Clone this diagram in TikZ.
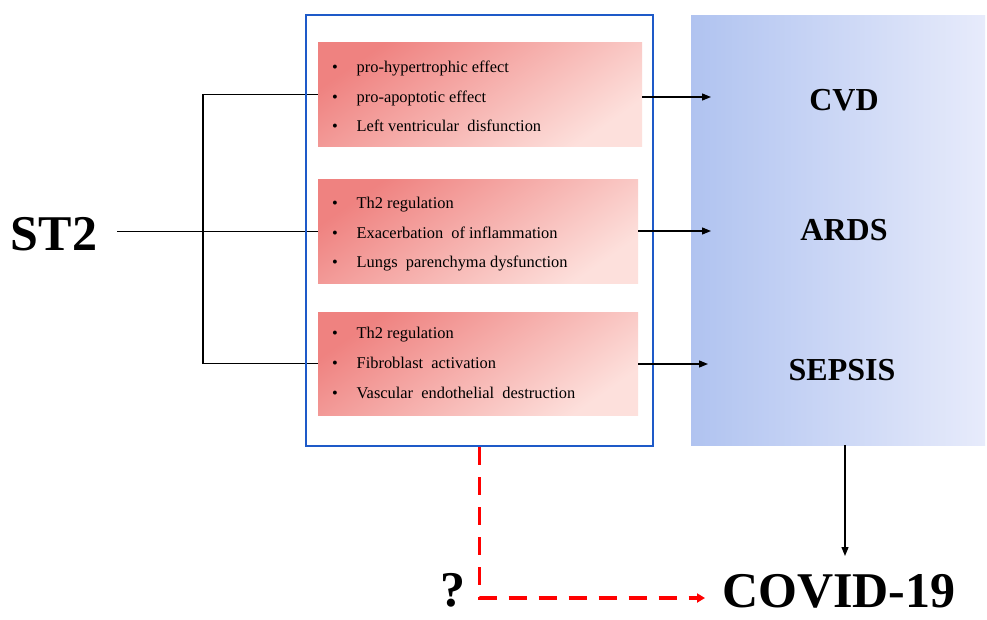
\documentclass[tikz,border=0pt]{standalone}
\usepackage{fontspec}
\setmainfont{Liberation Serif}
\usetikzlibrary{arrows.meta}
\definecolor{pinkdark}{RGB}{239,130,128}
\definecolor{pinklight}{RGB}{253,224,220}
\definecolor{paneldark}{RGB}{176,195,240}
\definecolor{panellight}{RGB}{231,235,251}
\definecolor{frameblue}{RGB}{30,90,200}
\definecolor{dashred}{RGB}{255,0,0}
\tikzset{
  pinkbox/.style={draw=none, inner sep=0pt, anchor=north west,
    top color=pinkdark, bottom color=pinklight, shading angle=35},
  itemtext/.style={anchor=base west, inner sep=0pt, font=\fontsize{16.4}{19}\selectfont},
  biglabel/.style={anchor=base, inner sep=0pt, font=\fontsize{32}{36}\selectfont\bfseries},
  hugelabel/.style={anchor=base, inner sep=0pt, font=\fontsize{50}{56}\selectfont\bfseries},
  conn/.style={draw=black, line width=1.3pt},
  arr/.style={conn, -{Triangle[length=9pt,width=7pt]}},
  reddash/.style={draw=dashred, line width=3.5pt, dash pattern=on 18pt off 12pt,
    -{Triangle[length=8pt,width=9pt]}}
}
\newcommand{\itm}[1]{\makebox[24.5pt][l]{•}#1}
\begin{document}
\begin{tikzpicture}[x=1pt,y=-1pt]
\useasboundingbox (0,0) rectangle (987,619);
\fill[white] (0,0) rectangle (987,619);

% right panel
\node[draw=none, inner sep=0pt, anchor=north west, minimum width=294pt, minimum height=430pt,
  left color=paneldark, right color=panellight] (panel) at (691,15) {};

% pink boxes
\node[pinkbox, minimum width=324pt, minimum height=104pt] (p1) at (318,42) {};
\node[pinkbox, minimum width=320pt, minimum height=104pt] (p2) at (318,179) {};
\node[pinkbox, minimum width=320pt, minimum height=103pt] (p3) at (318,312) {};

% items
\node[itemtext] (a1) at (332,72)  {\itm{pro-hypertrophic effect}};
\node[itemtext] (a2) at (332,102) {\itm{pro-apoptotic effect}};
\node[itemtext] (a3) at (332,131) {\itm{Left ventricular\ \ disfunction}};
\node[itemtext] (b1) at (332,208) {\itm{Th2 regulation}};
\node[itemtext] (b2) at (332,238) {\itm{Exacerbation\ \ of inflammation}};
\node[itemtext] (b3) at (332,267) {\itm{Lungs\ \ parenchyma dysfunction}};
\node[itemtext] (c1) at (332,338) {\itm{Th2 regulation}};
\node[itemtext] (c2) at (332,368) {\itm{Fibroblast\ \ activation}};
\node[itemtext] (c3) at (332,398) {\itm{Vascular\ \ endothelial\ \ destruction}};

% labels
\node[hugelabel] (st2) at (54,250) {ST2};
\node[biglabel] (cvd) at (844,110) {CVD};
\node[biglabel] (ards) at (844,240) {ARDS};
\node[biglabel] (sepsis) at (842,380) {SEPSIS};
\node[hugelabel] (covid) at (839,607) {COVID-19};
\node[hugelabel] (q) at (453,606) {?};

% helper coordinates
\coordinate (st2out) at (117,231);
\coordinate (j) at (203,231);
\coordinate (t1) at (711,97);
\coordinate (t2) at (711,231);
\coordinate (t3) at (708,364);
\coordinate (cvtop) at (845,556);
\coordinate (rtip) at (705,598);

% ST2 connectors
\draw[conn] (st2out |- p2.west) -- (p2.west);
\draw[conn] (p1.west -| j) -- (p3.west -| j);
\draw[conn] (p1.west -| j) -- (p1.west);
\draw[conn] (p3.west -| j) -- (p3.west);

% blue frame
\node[draw=frameblue, line width=2pt, inner sep=0pt, anchor=north west,
  minimum width=347pt, minimum height=431pt] (frame) at (305,14) {};

% arrows to panel
\draw[arr] (p1.east |- t1) -- (t1);
\draw[arr] (p2.east |- t2) -- (t2);
\draw[arr] (p3.east |- t3) -- (t3);

% down arrow
\draw[arr] (panel.south -| cvtop) -- (cvtop);

% red dashed
\draw[reddash] (frame.south) |- (rtip);
\end{tikzpicture}
\end{document}
